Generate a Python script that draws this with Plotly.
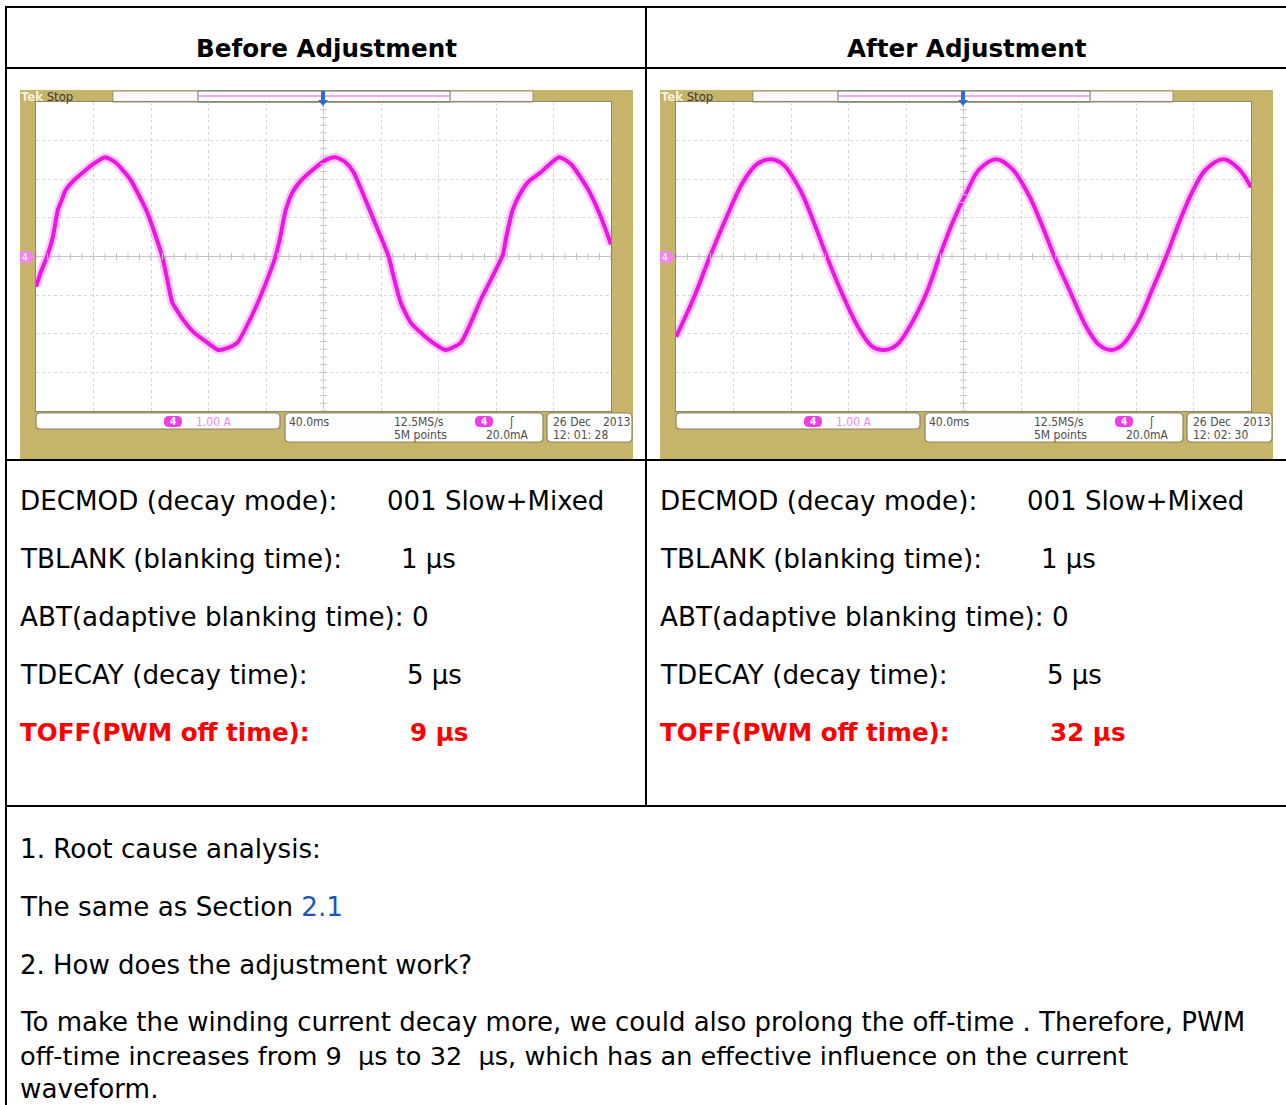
import numpy as np
import plotly.graph_objects as go

W, H = 1286, 1105

# ---------------- data ----------------
# Oscilloscope channel 4 current, time in ms (40 ms/div), current in A (1 A/div)
before_t = [0, 3.5, 7.7, 11.8, 15.3, 18.1, 20.2, 25.8, 32.8, 39.7, 48.1, 55.1, 65.5, 77.4, 87.8,
            91.3, 94.8, 99.0, 102.4, 109.4, 119.2, 126.8, 133.8, 140.1, 151.2, 158.9, 166.6,
            170.0, 173.5, 178.4, 184.0, 193.0, 202.8, 208.4, 215.3, 220.9, 232.8, 245.3, 248.1,
            253.7, 260.6, 267.6, 276.0, 285.0, 295.5, 309.4, 324.8, 326.8, 331.7, 337.3, 342.9,
            351.2, 363.8, 372.2, 384.0, 393.1, 400.0]
before_i = [-0.78, -0.39, 0.0, 0.52, 1.22, 1.48, 1.69, 1.95, 2.18, 2.39, 2.57, 2.44, 2.0, 1.14, 0.0,
            -0.60, -1.19, -1.45, -1.64, -1.95, -2.23, -2.42, -2.36, -2.23, -1.45, -0.78, 0.0,
            0.52, 1.17, 1.66, 1.95, 2.26, 2.52, 2.57, 2.44, 2.18, 1.14, 0.0, -0.42,
            -1.19, -1.71, -1.97, -2.23, -2.42, -2.23, -1.12, 0.05, 0.44, 1.22, 1.66, 1.95,
            2.18, 2.57, 2.39, 1.74, 1.01, 0.31]

after_t = [0, 11.8, 23.6, 35.4, 46.5, 56.3, 65.3, 74.3, 86.1, 95.1, 104.9, 115.3, 127.8, 136.8,
           145.1, 153.5, 162.5, 174.3, 183.3, 192.4, 202.1, 211.1, 222.9, 234.0, 245.8, 254.9,
           263.2, 273.6, 285.4, 294.4, 302.8, 310.4, 322.2, 331.2, 341.0, 350.0, 359.0, 368.7,
           381.2, 391.7, 400.0]
after_i = [-2.08, -1.12, 0.0, 1.04, 1.92, 2.39, 2.52, 2.39, 1.74, 0.96, 0.0, -0.94, -1.90, -2.34,
           -2.42, -2.29, -1.82, -0.94, 0.0, 0.88, 1.66, 2.26, 2.52, 2.26, 1.56, 0.78,
           0.0, -0.86, -1.82, -2.29, -2.42, -2.29, -1.64, -0.86, 0.0, 0.88, 1.66, 2.26,
           2.52, 2.26, 1.79]

# scope readouts
ch_scale = "1.00 A"
time_div = "40.0ms"
sample_rate = "12.5MS/s"
record_len = "5M points"
trig_level = "20.0mA"
scope_date = "26 Dec"
scope_year = "2013"
scope_times = ["12: 01: 28", "12: 02: 30"]

# table text
headers = ["Before Adjustment", "After Adjustment"]
param_labels = ["DECMOD (decay mode):", "TBLANK (blanking time):",
                "ABT(adaptive blanking time): 0", "TDECAY (decay time):", "TOFF(PWM off time):"]
before_values = ["001 Slow+Mixed", "1 μs", "", "5 μs", "9 μs"]
after_values = ["001 Slow+Mixed", "1 μs", "", "5 μs", "32 μs"]
notes = ["1. Root cause analysis:",
         "The same as Section <span style='color:#1F55B8'>2.1</span>",
         "2. How does the adjustment work?",
         "To make the winding current decay more, we could also prolong the off-time . Therefore, PWM",
         "off-time increases from 9  μs to 32  μs, which has an effective influence on the current",
         "waveform."]

# ---------------- helpers (pixel -> paper) ----------------
def X(px):
    return px / W

def Y(py):
    return 1 - py / H

def P(x, y):
    return f"{X(x):.5f},{Y(y):.5f}"

def rrect(x0, y0, x1, y1, r):
    return (f"M {P(x0 + r, y0)} L {P(x1 - r, y0)} Q {P(x1, y0)} {P(x1, y0 + r)} "
            f"L {P(x1, y1 - r)} Q {P(x1, y1)} {P(x1 - r, y1)} L {P(x0 + r, y1)} "
            f"Q {P(x0, y1)} {P(x0, y1 - r)} L {P(x0, y0 + r)} Q {P(x0, y0)} {P(x0 + r, y0)} Z")

shapes = []
annotations = []

def line(x0, y0, x1, y1, color="black", width=2, layer="above"):
    shapes.append(dict(type="line", xref="paper", yref="paper", x0=X(x0), y0=Y(y0),
                       x1=X(x1), y1=Y(y1), line=dict(color=color, width=width), layer=layer))

def rect(x0, y0, x1, y1, fill, lc=None, lw=0, layer="below"):
    shapes.append(dict(type="rect", xref="paper", yref="paper", x0=X(x0), y0=Y(y0),
                       x1=X(x1), y1=Y(y1), fillcolor=fill,
                       line=dict(color=lc or fill, width=lw), layer=layer))

def path(d, fill, lc=None, lw=0, layer="below"):
    shapes.append(dict(type="path", xref="paper", yref="paper", path=d, fillcolor=fill,
                       line=dict(color=lc or fill, width=lw), layer=layer))

def text(x, y, s, size=26.2, color="black", family="DejaVu Sans", anchor="left", bold=False):
    if bold:
        s = f"<b>{s}</b>"
    annotations.append(dict(x=X(x), y=Y(y), xref="paper", yref="paper", text=s, showarrow=False,
                            xanchor=anchor, yanchor="middle",
                            font=dict(size=size, color=color, family=family), borderpad=0))

# ---------------- scope frames ----------------
OLIVE = "#C6B46B"
SCOPE_FONT = "DejaVu Sans Condensed, Liberation Sans Narrow, Arial Narrow, sans-serif"
SC = "#4E4E4E"
FS = 12
for k, ox in enumerate([0, 640]):
    rect(20 + ox, 90, 633 + ox, 459, OLIVE)
    # graticule background
    rect(36 + ox, 102, 611 + ox, 411, "white")
    # top record bar
    rect(113 + ox, 91, 533 + ox, 102, "#FCF6FC", "#9C9272", 1)
    rect(198 + ox, 91, 450 + ox, 102, "#FFFFFF", "#6E6E6E", 1)
    line(199 + ox, 96, 449 + ox, 96, color="#F3A6F0", width=2, layer="below")
    # trigger position marker
    path(f"M {P(321 + ox, 91)} L {P(325 + ox, 91)} L {P(325 + ox, 100)} L {P(328 + ox, 100)} "
         f"L {P(323 + ox, 106)} L {P(318 + ox, 100)} L {P(321 + ox, 100)} Z", "#2F6CCB", layer="above")
    # channel ground marker
    path(f"M {P(20 + ox, 251)} L {P(30 + ox, 251)} L {P(35 + ox, 257)} L {P(30 + ox, 263)} "
         f"L {P(20 + ox, 263)} Z", "#EF86EA", layer="above")
    text(25 + ox, 257, "4", size=10, color="white", family=SCOPE_FONT, anchor="center")
    # "Tek Stop"
    text(20 + ox, 96, "<b><span style='color:#F6F0DE'>Tek</span></b> Stop", size=13,
         color="#3C3A2C", family=SCOPE_FONT)
    # bottom readout boxes
    path(rrect(36 + ox, 413, 280 + ox, 429, 4), "#FDFDFD", "#8C8466", 1.2)
    path(rrect(285 + ox, 413, 543 + ox, 442, 4), "#FDFDFD", "#8C8466", 1.2)
    path(rrect(547 + ox, 413, 632 + ox, 442, 4), "#FDFDFD", "#8C8466", 1.2)
    path(rrect(164 + ox, 416, 182 + ox, 427, 5), "#EE3CE8", layer="above")
    text(173 + ox, 421.5, "<b>4</b>", size=10, color="white", family=SCOPE_FONT, anchor="center")
    text(195 + ox, 421.5, ch_scale, size=FS, color="#F08BEC", family=SCOPE_FONT)
    text(288 + ox, 421.5, time_div, size=FS, color=SC, family=SCOPE_FONT)
    text(393 + ox, 421.5, sample_rate, size=FS, color=SC, family=SCOPE_FONT)
    text(393 + ox, 435, record_len, size=FS, color=SC, family=SCOPE_FONT)
    path(rrect(475 + ox, 416, 493 + ox, 427, 5), "#EE3CE8", layer="above")
    text(484 + ox, 421.5, "<b>4</b>", size=10, color="white", family=SCOPE_FONT, anchor="center")
    text(508 + ox, 421.5, "ʃ", size=FS, color=SC, family=SCOPE_FONT)
    text(485 + ox, 435, trig_level, size=FS, color=SC, family=SCOPE_FONT)
    text(552 + ox, 421.5, scope_date, size=FS, color=SC, family=SCOPE_FONT)
    text(602 + ox, 421.5, scope_year, size=FS, color=SC, family=SCOPE_FONT)
    text(552 + ox, 435, scope_times[k], size=FS, color=SC, family=SCOPE_FONT)

# ---------------- table rules ----------------
line(6, 7, 1286, 7)
line(6, 6, 6, 1105)
line(6, 68, 1286, 68)
line(6, 460, 1286, 460)
line(6, 806, 1286, 806)
line(646, 7, 646, 806)

# headers
text(326, 49, headers[0], size=24.6, bold=True, anchor="center")
text(967, 49, headers[1], size=24.6, bold=True, anchor="center")

# parameter rows
row_y = [501, 559, 617, 675, 732]
value_x = [387, 401, None, 407, 410]
for ox, vals in [(0, before_values), (640, after_values)]:
    for j, lab in enumerate(param_labels):
        red = (j == 4)
        text(19 + ox, row_y[j], lab, size=24.6 if red else 26.2, color="#FF0000" if red else "black",
             bold=red)
        if vals[j]:
            text(value_x[j] - 1 + ox, row_y[j], vals[j], size=24.6 if red else 26.0,
                 color="#FF0000" if red else "black", bold=red)

# notes
note_y = [849, 907, 965, 1022, 1056, 1089]
note_size = [26.2, 26.2, 26.0, 26.0, 25.6, 26.2]
for s, yy, fs in zip(notes, note_y, note_size):
    text(19, yy, s, size=fs)

# ---------------- traces ----------------
fig = go.Figure()
traces = [(before_t, before_i, "x", "y", 0.55), (after_t, after_i, "x2", "y2", 1.0)]
for t, i, xa, ya, sm in traces:
    fig.add_trace(go.Scatter(x=t, y=i, xaxis=xa, yaxis=ya, mode="lines",
                             line=dict(color="rgba(248,120,240,0.40)", width=9, shape="spline",
                                       smoothing=sm), hoverinfo="skip"))
    fig.add_trace(go.Scatter(x=t, y=i, xaxis=xa, yaxis=ya, mode="lines",
                             line=dict(color="#EE14E2", width=4, shape="spline", smoothing=sm),
                             hoverinfo="skip"))
    # centre-line tick marks of the graticule
    tx = np.arange(0, 400.1, 8)
    fig.add_trace(go.Scatter(x=tx, y=np.zeros_like(tx), xaxis=xa, yaxis=ya, mode="markers",
                             marker=dict(symbol="line-ns", size=5, line=dict(width=1, color="#C4C4C4")),
                             hoverinfo="skip"))
    ty = np.arange(-4, 4.01, 0.2)
    fig.add_trace(go.Scatter(x=np.full_like(ty, 200), y=ty, xaxis=xa, yaxis=ya, mode="markers",
                             marker=dict(symbol="line-ew", size=5, line=dict(width=1, color="#C4C4C4")),
                             hoverinfo="skip"))

for xa in ["x", "x2"]:
    shapes.append(dict(type="line", xref=xa, yref=("y" if xa == "x" else "y2") + " domain",
                       x0=200, x1=200, y0=0, y1=1, line=dict(color="#C4C4C4", width=1), layer="below"))

xcommon = dict(range=[0, 400], dtick=40, tick0=0, showgrid=True, gridcolor="#D6D6D6", griddash="dot",
               gridwidth=1, zeroline=False, showticklabels=False, ticks="", showline=True,
               linecolor="#8E8566", linewidth=1, mirror=True, fixedrange=True)
ycommon = dict(range=[-4, 4], dtick=1, tick0=0, showgrid=True, gridcolor="#D6D6D6", griddash="dot",
               gridwidth=1, zeroline=True, zerolinecolor="#C4C4C4", zerolinewidth=1,
               showticklabels=False, ticks="", showline=True, linecolor="#8E8566", linewidth=1,
               mirror=True, fixedrange=True)

fig.update_layout(
    width=W, height=H, autosize=False, margin=dict(l=0, r=0, t=0, b=0),
    paper_bgcolor="white", plot_bgcolor="rgba(0,0,0,0)", showlegend=False, hovermode=False,
    font=dict(family="DejaVu Sans", color="black"),
    xaxis=dict(domain=[X(36), X(611)], anchor="y", **xcommon),
    yaxis=dict(domain=[Y(411), Y(102)], anchor="x", **ycommon),
    xaxis2=dict(domain=[X(676), X(1251)], anchor="y2", **xcommon),
    yaxis2=dict(domain=[Y(411), Y(102)], anchor="x2", **ycommon),
    shapes=shapes, annotations=annotations,
)

fig.write_html("out.html", config={"displayModeBar": False},
               post_script="document.body.style.margin='0px';document.body.style.padding='0px';"
                           "document.body.style.overflow='hidden';")
